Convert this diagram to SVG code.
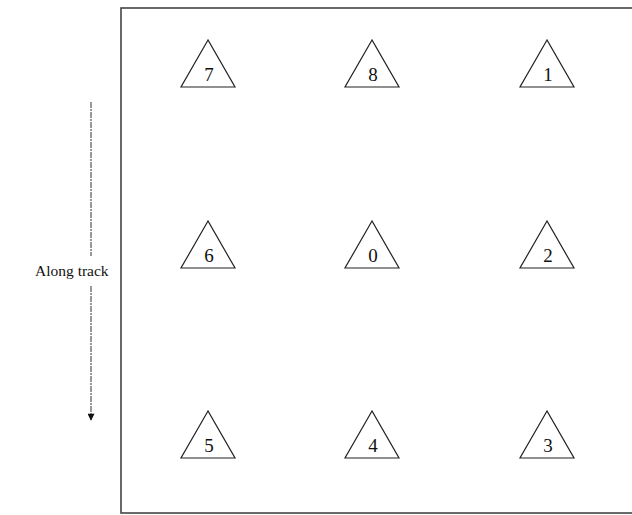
<svg xmlns="http://www.w3.org/2000/svg" width="632" height="515" viewBox="0 0 632 515">
<style>
.frame{fill:none;stroke:#444;stroke-width:1.6}
.tri{fill:#fff;stroke:#222;stroke-width:1.2}
.num{font-family:"Liberation Serif",serif;font-size:19px;fill:#111;text-anchor:middle}
.lbl{font-family:"Liberation Serif",serif;font-size:15.5px;fill:#111}
.trk{stroke:#333;stroke-width:1;stroke-dasharray:6 1 2 1}
</style>
<defs>
<marker id="ah" viewBox="0 0 10 10" refX="9" refY="5" markerWidth="8" markerHeight="7" orient="auto" markerUnits="userSpaceOnUse">
<path d="M0,0 L10,5 L0,10 z" fill="#111"/>
</marker>
<path id="t" class="tri" d="M0,0 L-27,47 L27,47 Z"/>
</defs>
<rect width="632" height="515" fill="#fff"/>
<rect class="frame" x="121" y="8" width="520" height="505"/>
<g id="connectors">
<line class="trk" x1="91" y1="102" x2="91" y2="256"/>
<line class="trk" x1="91" y1="286" x2="91" y2="420" marker-end="url(#ah)"/>
</g>
<text class="lbl" x="35" y="276">Along track</text>
<g id="n7"><use href="#t" x="208" y="40"/><text class="num" x="209" y="81">7</text></g>
<g id="n8"><use href="#t" x="372" y="40"/><text class="num" x="373" y="81">8</text></g>
<g id="n1"><use href="#t" x="547" y="40"/><text class="num" x="548" y="81">1</text></g>
<g id="n6"><use href="#t" x="208" y="221"/><text class="num" x="209" y="262">6</text></g>
<g id="n0"><use href="#t" x="372" y="221"/><text class="num" x="373" y="262">0</text></g>
<g id="n2"><use href="#t" x="547" y="221"/><text class="num" x="548" y="262">2</text></g>
<g id="n5"><use href="#t" x="208" y="411"/><text class="num" x="209" y="452">5</text></g>
<g id="n4"><use href="#t" x="372" y="411"/><text class="num" x="373" y="452">4</text></g>
<g id="n3"><use href="#t" x="547" y="411"/><text class="num" x="548" y="452">3</text></g>
</svg>
